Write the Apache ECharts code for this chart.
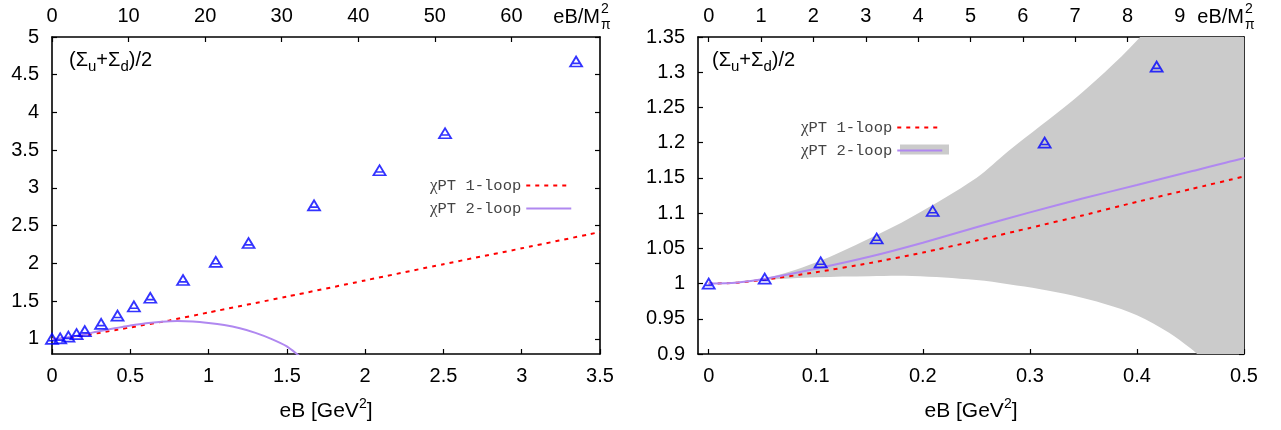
<!DOCTYPE html>
<html>
<head>
<meta charset="utf-8">
<script src="https://cdn.jsdelivr.net/npm/echarts@6.0.0/dist/echarts.min.js"></script>
<style>
html, body { margin: 0; padding: 0; background: #fff; }
#main { width: 1281px; height: 430px; }
</style>
</head>
<body>
<div id="main"></div>
<script>
// M_pi^2 in GeV^2, used for the top axis (eB/M_pi^2)
var mpi2 = 0.0489;

// lattice points
var latEB = [0, 0.0523, 0.1046, 0.1569, 0.2092, 0.3138, 0.4184, 0.523, 0.6276, 0.8368, 1.046, 1.2552, 1.6736, 2.092, 2.5104, 3.3472];
var latSigma = [1.0, 1.007, 1.030, 1.064, 1.103, 1.200, 1.308, 1.43, 1.545, 1.78, 2.02, 2.27, 2.77, 3.235, 3.725, 4.675];

// chiPT 1-loop
var oneLoopEB = [0, 0.025, 0.05, 0.1, 0.15, 0.2, 0.25, 0.3, 0.35, 0.4, 0.45, 0.5, 0.75, 1, 1.5, 2, 2.5, 3, 3.5];
var oneLoop = [1, 1.001, 1.005, 1.016, 1.029, 1.044, 1.061, 1.079, 1.097, 1.116, 1.134, 1.152, 1.245, 1.35, 1.56, 1.775, 1.99, 2.2, 2.416];

// chiPT 2-loop
var twoLoopEB = [0, 0.025, 0.05, 0.1, 0.15, 0.2, 0.25, 0.3, 0.35, 0.4, 0.45, 0.5, 0.6, 0.7, 0.8, 0.9, 1.0, 1.1, 1.2, 1.3, 1.4, 1.5, 1.6];
var twoLoop = [1, 1.001, 1.006, 1.021, 1.038, 1.058, 1.080, 1.101, 1.121, 1.140, 1.159, 1.178, 1.208, 1.228, 1.237, 1.232, 1.212, 1.183, 1.14, 1.08, 1.0, 0.9, 0.74];

// 2-loop error band (right panel)
var bandEB = [0, 0.05, 0.1, 0.15, 0.19, 0.25, 0.28, 0.31, 0.34, 0.37, 0.40, 0.43, 0.45, 0.5];
var bandHi = [1.0, 1.007, 1.030, 1.064, 1.095, 1.150, 1.188, 1.224, 1.26, 1.30, 1.345, 1.40, 1.44, 1.55];
var bandLo = [1.0, 1.005, 1.009, 1.0105, 1.0107, 1.005, 0.999, 0.992, 0.983, 0.971, 0.955, 0.930, 0.908, 0.85];

// tick labels
var leftXTicks = [0, 0.5, 1, 1.5, 2, 2.5, 3, 3.5];
var leftYTicks = [1, 1.5, 2, 2.5, 3, 3.5, 4, 4.5, 5];
var leftTopTicks = [0, 10, 20, 30, 40, 50, 60];
var rightXTicks = [0, 0.1, 0.2, 0.3, 0.4, 0.5];
var rightYTicks = [0.9, 0.95, 1, 1.05, 1.1, 1.15, 1.2, 1.25, 1.3, 1.35];
var rightTopTicks = [0, 1, 2, 3, 4, 5, 6, 7, 8, 9];

var font = 'Liberation Sans';
var mono = 'Liberation Mono';

function pairs(xs, ys) {
    return xs.map(function (x, i) { return [x, ys[i]]; });
}

// 坐标轴(黑色边框+向内刻度)
function frameAxis(o) {
    return {
        type: 'value',
        gridIndex: o.grid,
        position: o.pos,
        min: o.min,
        max: o.max,
        name: o.name || '',
        nameLocation: 'middle',
        nameGap: 43,
        nameTextStyle: {
            color: '#000', fontFamily: font, fontSize: 21, lineHeight: 28,
            rich: { sup: { fontFamily: font, fontSize: 14, color: '#000', verticalAlign: 'top', lineHeight: 14 } }
        },
        axisLine: { show: true, onZero: false, lineStyle: { color: '#000', width: 1.6 } },
        axisTick: { show: true, inside: true, length: 5, customValues: o.ticks, lineStyle: { color: '#000', width: 1.2 } },
        axisLabel: {
            show: o.labels !== false, customValues: o.ticks, margin: o.margin || 12,
            color: '#000', fontFamily: font, fontSize: 20
        },
        splitLine: { show: false }
    };
}

var myChart = echarts.init(document.getElementById('main'));

var dashStyle = { color: '#ff0000', width: 2, type: [4, 5] };
var purpleStyle = { color: '#b088f0', width: 2 };
var triSymbol = 'path://M0,10L5,0L10,10Z M2.2,6.8L7.8,6.8';

function legendOf(left, top) {
    return {
        data: ['χPT 1-loop', 'χPT 2-loop'],
        orient: 'vertical',
        left: left,
        top: top,
        align: 'right',
        padding: 0,
        itemWidth: 45,
        itemHeight: 10,
        itemGap: 6,
        selectedMode: false,
        itemStyle: { opacity: 0 },
        formatter: function (n) { return '{g|' + n.slice(0, 1) + '}' + n.slice(1); },
        textStyle: {
            fontFamily: mono, fontSize: 15.5, color: '#444',
            rich: { g: { fontFamily: 'Liberation Serif', fontSize: 17, color: '#444' } }
        }
    };
}

function subTitle(x) {
    return {
        type: 'text', x: x, y: 60, z: 10,
        style: {
            text: '(Σ{s|u}+Σ{s|d})/2',
            fontFamily: font, fontSize: 20, fill: '#000', verticalAlign: 'middle', lineHeight: 28,
            rich: { s: { fontFamily: font, fontSize: 15, fill: '#000', verticalAlign: 'bottom', lineHeight: 14 } }
        }
    };
}

function topName(x) {
    return [
        { type: 'text', x: x, y: 17, style: { text: 'eB/M', fontFamily: font, fontSize: 20, fill: '#000', align: 'right', verticalAlign: 'middle' } },
        { type: 'text', x: x + 1, y: 9, style: { text: '2', fontFamily: font, fontSize: 14, fill: '#000', align: 'left', verticalAlign: 'middle' } },
        { type: 'text', x: x + 1, y: 25, style: { text: 'π', fontFamily: font, fontSize: 14, fill: '#000', align: 'left', verticalAlign: 'middle' } }
    ];
}

option = {
    animation: false,
    backgroundColor: '#fff',
    grid: [
        { left: 52, right: 681, top: 37, bottom: 75 },
        { left: 698, right: 37, top: 37, bottom: 75 }
    ],
    xAxis: [
        frameAxis({ grid: 0, pos: 'bottom', min: 0, max: 3.5, ticks: leftXTicks, name: 'eB [GeV{sup|2}]' }),
        frameAxis({ grid: 0, pos: 'top', min: 0, max: 3.5 / mpi2, ticks: leftTopTicks, margin: 11 }),
        frameAxis({ grid: 1, pos: 'bottom', min: -0.01, max: 0.5, ticks: rightXTicks, name: 'eB [GeV{sup|2}]' }),
        frameAxis({ grid: 1, pos: 'top', min: -0.01 / mpi2, max: 0.5 / mpi2, ticks: rightTopTicks, margin: 11 })
    ],
    yAxis: [
        frameAxis({ grid: 0, pos: 'left', min: 0.8, max: 5, ticks: leftYTicks, margin: 13 }),
        frameAxis({ grid: 0, pos: 'right', min: 0.8, max: 5, ticks: leftYTicks, labels: false }),
        frameAxis({ grid: 1, pos: 'left', min: 0.9, max: 1.35, ticks: rightYTicks, margin: 13 }),
        frameAxis({ grid: 1, pos: 'right', min: 0.9, max: 1.35, ticks: rightYTicks, labels: false })
    ],
    legend: [legendOf(430, 177), legendOf(801, 119)],
    graphic: [
        subTitle(69), subTitle(712),
        { type: 'rect', z: 1, shape: { x: 900, y: 144.5, width: 49, height: 10 }, style: { fill: '#cbcbcb' } }
    ].concat(topName(600), topName(1244)),
    series: [
        // 左图
        {
            name: 'χPT 1-loop', type: 'line', xAxisIndex: 0, yAxisIndex: 0,
            data: pairs(oneLoopEB, oneLoop), symbol: 'none', smooth: 0.2, lineStyle: dashStyle, z: 3
        },
        {
            name: 'χPT 2-loop', type: 'line', xAxisIndex: 0, yAxisIndex: 0,
            data: pairs(twoLoopEB, twoLoop), symbol: 'none', smooth: 0.2, lineStyle: purpleStyle, z: 3
        },
        {
            name: 'lattice', type: 'scatter', xAxisIndex: 0, yAxisIndex: 0,
            data: pairs(latEB, latSigma), symbol: triSymbol, symbolSize: [12, 10],
            itemStyle: { color: 'rgba(0,0,0,0)', borderColor: '#0000ff', borderWidth: 1.8 }, z: 5
        },
        // 右图: 误差带 (多边形, 裁剪到网格内)
        {
            name: 'band', type: 'custom', xAxisIndex: 2, yAxisIndex: 2, z: 1,
            data: bandEB.map(function (x, i) { return [x, bandLo[i], bandHi[i]]; }),
            encode: { x: 0, y: [1, 2] },
            renderItem: function (params, api) {
                if (params.dataIndex !== 0) return;
                var up = [], lo = [];
                for (var i = 0; i < bandEB.length; i++) {
                    up.push(api.coord([bandEB[i], bandHi[i]]));
                    if (i > 0) lo.unshift(api.coord([bandEB[i], bandLo[i]]));
                }
                var cs = params.coordSys;
                return {
                    type: 'polygon',
                    shape: { points: up.concat(lo), smooth: 0.35 },
                    style: { fill: '#cbcbcb' },
                    clipPath: { type: 'rect', shape: { x: cs.x, y: cs.y, width: cs.width, height: cs.height } }
                };
            }
        },
        {
            name: 'χPT 1-loop', type: 'line', xAxisIndex: 2, yAxisIndex: 2,
            data: pairs(oneLoopEB, oneLoop), symbol: 'none', smooth: 0.2, lineStyle: dashStyle, z: 3
        },
        {
            name: 'χPT 2-loop', type: 'line', xAxisIndex: 2, yAxisIndex: 2,
            data: pairs(twoLoopEB, twoLoop), symbol: 'none', smooth: 0.2, lineStyle: purpleStyle, z: 3
        },
        {
            name: 'lattice', type: 'scatter', xAxisIndex: 2, yAxisIndex: 2,
            data: pairs(latEB, latSigma), symbol: triSymbol, symbolSize: [12, 10],
            itemStyle: { color: 'rgba(0,0,0,0)', borderColor: '#0000ff', borderWidth: 1.8 }, z: 5
        }
    ]
};

myChart.setOption(option);
window.addEventListener("resize", function () {
    myChart.resize();
});
</script>
</body>
</html>
